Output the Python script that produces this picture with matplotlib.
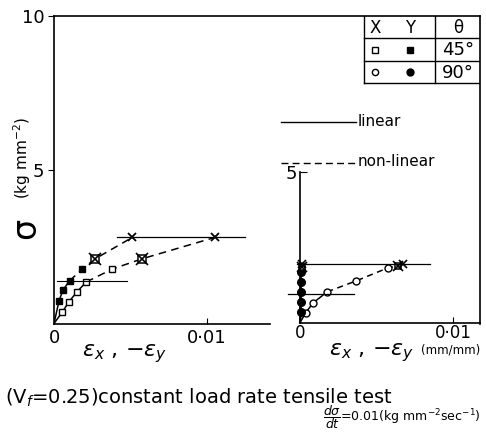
import matplotlib
matplotlib.use('Agg')
import matplotlib.pyplot as plt

plt.rcParams['font.family'] = ['DejaVu Sans']
plt.rcParams['mathtext.fontset'] = 'dejavusans'

# ---------------- data ----------------
# theta = 45 deg (left panel)
eps45_x = [0.0, 0.00054, 0.00098, 0.00152, 0.00211, 0.00381]   # open squares (X)
sig45_x = [0.0, 0.37, 0.71, 1.04, 1.35, 1.77]
eps45_y = [0.0, 0.00033, 0.00059, 0.00102, 0.00185]            # filled squares (Y)
sig45_y = [0.0, 0.74, 1.09, 1.39, 1.77]
cross45_eps = [0.00268, 0.00573]
cross45_sig = [2.10, 2.10]
fail45_eps = [0.00512, 0.01052]
fail45_sig = [2.80, 2.80]
knee45_sig = 1.38
knee45_span = [0.0002, 0.0048]
fail45_line_span = [0.0041, 0.0125]

# theta = 90 deg (right panel)
eps90_x = [0.0, 0.00039, 0.00083, 0.00178, 0.00366, 0.00577]  # open circles (X)
sig90_x = [0.0, 0.33, 0.64, 1.02, 1.38, 1.82]
eps90_y = [0.0, 0.00005, 0.00005, 0.00005, 0.00005, 0.00005]   # filled circles (Y)
sig90_y = [0.0, 0.36, 0.69, 1.02, 1.35, 1.68]
cross90_eps = [0.0001, 0.0064]
cross90_sig = [1.85, 1.88]
fail90_eps = [0.0001, 0.0067]
fail90_sig = [1.95, 1.95]
knee90_sig = 0.94
knee90_span = [-0.0008, 0.0035]
fail90_line_span = [-0.0002, 0.0085]

W, H = 486, 443
fig = plt.figure(figsize=(W / 100, H / 100), dpi=100)

def rect(l, t, r, b):
    return [l / W, (H - b) / H, (r - l) / W, (b - t) / H]

# frame (outer box: left, top, right)
ax0 = fig.add_axes(rect(54, 16, 480, 323.5))
ax0.set_xlim(54, 480)
ax0.set_ylim(323.5, 16)
ax0.patch.set_alpha(0)
ax0.set_xticks([]); ax0.set_yticks([])
ax0.spines['bottom'].set_visible(False)
for s in ['left', 'top', 'right']:
    ax0.spines[s].set_linewidth(1.2)

# ---------- left panel ----------
ax1 = fig.add_axes(rect(54, 16, 270, 323.5))
ax1.patch.set_alpha(0)
ax1.set_xlim(0, 0.01412)
ax1.set_ylim(0, 10)
for s in ['left', 'top', 'right']:
    ax1.spines[s].set_visible(False)
ax1.spines['bottom'].set_linewidth(1.2)
ax1.set_xticks([0, 0.01])
ax1.set_xticklabels(['0', '0·01'])
ax1.set_yticks([5, 10])
ax1.set_yticklabels(['5', '10'])
ax1.tick_params(axis='x', direction='in', length=4, labelsize=13, pad=4)
ax1.tick_params(axis='y', direction='out', length=4, labelsize=13, pad=3)

dash = (0, (5, 3.5))
ax1.plot(eps45_x[:5], sig45_x[:5], color='black', lw=1.1)
ax1.plot(eps45_x[4:] + [cross45_eps[1], fail45_eps[1]],
         sig45_x[4:] + [cross45_sig[1], fail45_sig[1]], color='black', lw=1.1, linestyle=dash)
ax1.plot(eps45_y[:4], sig45_y[:4], color='black', lw=1.1)
ax1.plot(eps45_y[3:] + [cross45_eps[0], fail45_eps[0]],
         sig45_y[3:] + [cross45_sig[0], fail45_sig[0]], color='black', lw=1.1, linestyle=dash)
ax1.plot(eps45_x[1:], sig45_x[1:], 's', ms=4.5, mfc='white', mec='black', mew=1.0)
ax1.plot(eps45_y[1:], sig45_y[1:], 's', ms=4.5, mfc='black', mec='black')
ax1.plot(cross45_eps, cross45_sig, 's', ms=5.5, mfc='white', mec='black', mew=1.1)
ax1.plot(cross45_eps, cross45_sig, 'x', ms=8, mec='black', mew=1.2)
ax1.plot(fail45_eps, fail45_sig, 'x', ms=6, mec='black', mew=1.3)
ax1.plot(knee45_span, [knee45_sig] * 2, color='black', lw=0.8)
ax1.plot(fail45_line_span, [fail45_sig[0]] * 2, color='black', lw=0.9, clip_on=False)

# ---------- right panel ----------
ax2 = fig.add_axes(rect(300, 172, 480, 322.5))
ax2.patch.set_alpha(0)
ax2.set_xlim(0, 0.011765)
ax2.set_ylim(0, 5)
for s in ['top', 'right']:
    ax2.spines[s].set_visible(False)
ax2.spines['left'].set_linewidth(1.2)
ax2.spines['bottom'].set_linewidth(1.2)
ax2.set_xticks([0, 0.01])
ax2.set_xticklabels(['0', '0·01'])
ax2.set_yticks([5])
ax2.set_yticklabels(['5'])
ax2.tick_params(axis='x', direction='in', length=4, labelsize=12, pad=1)
ax2.tick_params(axis='y', direction='in', length=5, labelsize=13, pad=2)

ax2.plot(eps90_x[:4], sig90_x[:4], color='black', lw=1.1)
ax2.plot(eps90_x[3:] + [cross90_eps[1], fail90_eps[1]],
         sig90_x[3:] + [cross90_sig[1], fail90_sig[1]], color='black', lw=1.1, linestyle=(0, (4, 3)))
ax2.plot(eps90_y + [cross90_eps[0], fail90_eps[0]],
         sig90_y + [cross90_sig[0], fail90_sig[0]], color='black', lw=1.6, clip_on=False)
ax2.plot(eps90_x[1:], sig90_x[1:], 'o', ms=5, mfc='white', mec='black', mew=1.0)
ax2.plot(eps90_y[1:], sig90_y[1:], 'o', ms=5.5, mfc='black', mec='black', clip_on=False)
ax2.plot(cross90_eps, cross90_sig, 's', ms=5, mfc='white', mec='black', mew=1.1, clip_on=False)
ax2.plot(cross90_eps, cross90_sig, 'x', ms=7, mec='black', mew=1.2, clip_on=False)
ax2.plot(fail90_eps, fail90_sig, 'x', ms=5.5, mec='black', mew=1.2, clip_on=False)
ax2.plot(knee90_span, [knee90_sig] * 2, color='black', lw=0.9, clip_on=False)
ax2.plot(fail90_line_span, [fail90_sig[0]] * 2, color='black', lw=0.9, clip_on=False)

# ---------- legend table (in frame pixel coords) ----------
tl = dict(color='black', lw=1.0)
ax0.plot([364, 364], [16, 83], **tl)
ax0.plot([435, 435], [16, 83], **tl)
for yy in [38, 61, 83]:
    ax0.plot([364, 480], [yy, yy], **tl)
ax0.text(375, 28, 'X', ha='center', va='center', fontsize=12)
ax0.text(410, 28, 'Y', ha='center', va='center', fontsize=12)
ax0.text(458, 28, 'θ', ha='center', va='center', fontsize=12)
ax0.plot([375], [49.5], 's', ms=4.5, mfc='white', mec='black', mew=1.0)
ax0.plot([410], [49.5], 's', ms=5, mfc='black', mec='black')
ax0.plot([375], [72], 'o', ms=4.5, mfc='white', mec='black', mew=1.0)
ax0.plot([410], [72], 'o', ms=5, mfc='black', mec='black')
ax0.text(458, 50, '45°', ha='center', va='center', fontsize=13)
ax0.text(458, 73, '90°', ha='center', va='center', fontsize=13)

ax0.plot([281, 356], [122, 122], color='black', lw=1.0)
ax0.text(358, 122, 'linear', ha='left', va='center', fontsize=11)
ax0.plot([281, 357], [163, 163], color='black', lw=1.0, linestyle=(0, (5, 3)))
ax0.text(358, 162, 'non-linear', ha='left', va='center', fontsize=11)

# ---------- labels ----------
fig.text(26 / W, 1 - 228 / H, 'σ', rotation=90, ha='center', va='center', fontsize=24)
fig.text(22 / W, 1 - 158 / H, '(kg mm$^{-2}$)', rotation=90, ha='center', va='center', fontsize=11)
fig.text(125 / W, 1 - 354 / H, r'$\varepsilon_x$ , $-\varepsilon_y$', ha='center', va='center', fontsize=16)
fig.text(372 / W, 1 - 353 / H, r'$\varepsilon_x$ , $-\varepsilon_y$', ha='center', va='center', fontsize=16)
fig.text(451 / W, 1 - 350 / H, '(mm/mm)', ha='center', va='center', fontsize=8.5)

fig.text(5 / W, 1 - 398 / H, '(V$_f$=0.25)constant load rate tensile test',
         ha='left', va='center', fontsize=14)
fig.text(481 / W, 1 - 417 / H, r'$\dfrac{d\sigma}{dt}$=0.01(kg mm$^{-2}$sec$^{-1}$)',
         ha='right', va='center', fontsize=9)

fig.savefig('out.png', dpi=100)
